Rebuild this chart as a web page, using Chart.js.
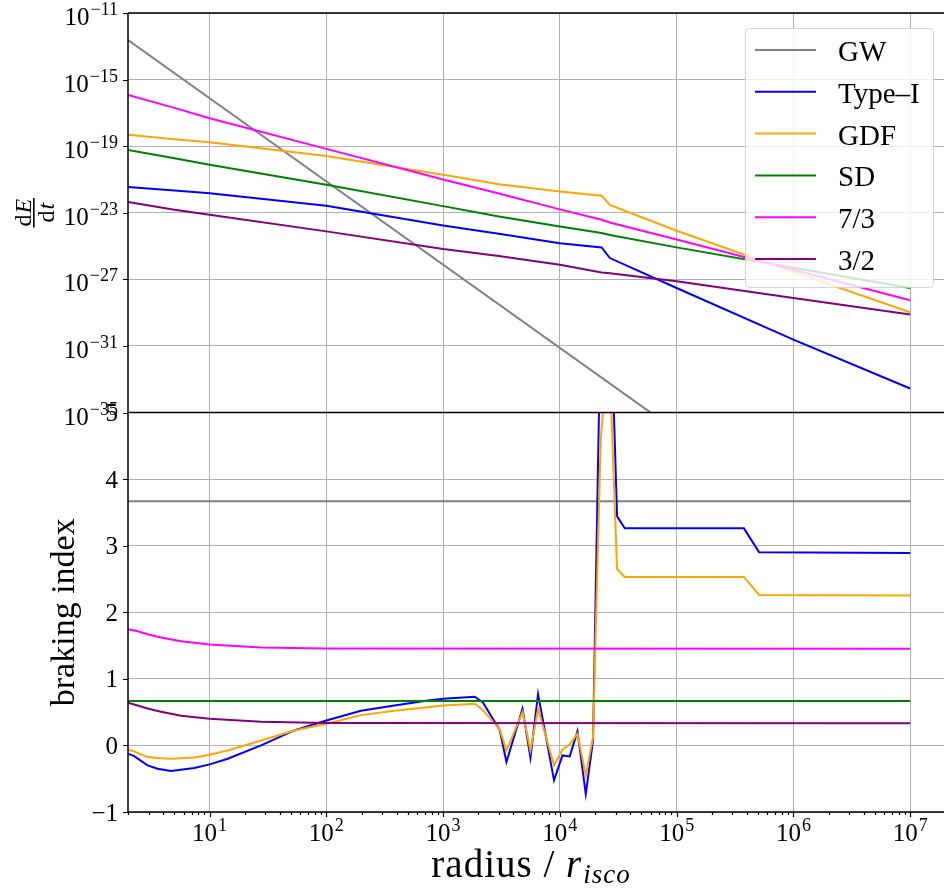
<!DOCTYPE html>
<html>
<head>
<meta charset="utf-8">
<script src="https://cdn.jsdelivr.net/npm/chart.js@4.4.1/dist/chart.umd.min.js"></script>
<style>
  html, body { margin: 0; padding: 0; background: #fff; }
</style>
</head>
<body>
<canvas id="myChart" width="944" height="890"></canvas>
<script>
// radius in units of r_isco, shared by the energy-loss curves
var radius = [2, 5, 10, 100, 1000, 3000, 1e4, 2.28e4, 2.68e4, 1e5, 1e6, 1e7];

// dE/dt for each channel
var gwRadius = [2, 1e5];
var gwEnergy = [2.4e-13, 7.6e-37];
var typeIEnergy = [3.5e-22, 2.2e-22, 1.5e-22, 2.6e-23, 1.74e-24, 5.5e-25, 1.45e-25, 8.3e-26, 1.9e-26, 3.0e-28, 2.4e-31, 2.75e-34];
var gdfEnergy = [4.8e-19, 2.6e-19, 1.74e-19, 2.6e-20, 1.9e-21, 5.2e-22, 1.9e-22, 1.05e-22, 3.0e-23, 8.3e-25, 2.8e-27, 1.05e-29];
var sdEnergy = [6.0e-20, 1.9e-20, 7.6e-21, 4.8e-22, 2.5e-23, 6.0e-24, 1.5e-24, 6.0e-25, 4.6e-25, 8.3e-26, 5.0e-27, 3.0e-28];
var sevenThirdsEnergy = [1.2e-16, 2.0e-17, 4.8e-18, 6.9e-20, 1.0e-21, 1.45e-22, 1.6e-23, 3.8e-24, 2.6e-24, 2.5e-25, 3.8e-27, 5.5e-29];
var threeHalvesEnergy = [4.4e-23, 1.5e-23, 7.6e-24, 7.6e-25, 6.6e-26, 2.5e-26, 7.6e-27, 2.6e-27, 2.3e-27, 7.6e-28, 7.6e-29, 7.6e-30];

// braking index
var brakeRadius = [2, 2.26, 2.94, 3.58, 4.66, 7.4, 10, 14.3, 27.6, 53, 100, 198, 383, 739, 1000, 1866, 2198, 3055, 3486,
                   4786, 5598, 6503, 8913, 10520, 12150, 14150, 16670, 19230, 22400, 26230, 30900, 35970, 3.77e5, 5.09e5, 1e7];
var typeIBrake = [-0.125, -0.16, -0.30, -0.35, -0.385, -0.34, -0.285, -0.2, 0.0, 0.225, 0.375, 0.52, 0.60, 0.675, 0.70, 0.73, 0.64, 0.23, -0.25,
                  0.55, -0.185, 0.77, -0.525, -0.15, -0.165, 0.215, -0.73, 0.075, 6.5, 7.5, 3.44, 3.26, 3.26, 2.9, 2.89];
var gdfBrake = [-0.065, -0.09, -0.175, -0.19, -0.20, -0.18, -0.14, -0.075, 0.075, 0.225, 0.325, 0.455, 0.52, 0.575, 0.60, 0.625, 0.53, 0.24, -0.075,
                0.50, -0.075, 0.55, -0.30, -0.065, 0.015, 0.175, -0.45, 0.125, 4.6, 6.1, 2.65, 2.53, 2.53, 2.26, 2.25];
var powRadius = [2, 2.42, 2.94, 3.83, 5.7, 10, 27.6, 100, 1e7];
var sevenThirdsBrake = [1.745, 1.715, 1.67, 1.62, 1.565, 1.515, 1.47, 1.455, 1.45];
var threeHalvesBrake = [0.64, 0.60, 0.555, 0.505, 0.445, 0.40, 0.355, 0.335, 0.333];
var flatRadius = [2, 1e7];
var gwBrake = [3.667, 3.667];
var sdBrake = [0.667, 0.667];

// axes
var xTicks = [1e1, 1e2, 1e3, 1e4, 1e5, 1e6, 1e7];
var energyTicks = [1e-35, 1e-31, 1e-27, 1e-23, 1e-19, 1e-15, 1e-11];
var brakeTicks = [-1, 0, 1, 2, 3, 4, 5];

var names = ['GW', 'Type\u2013I', 'GDF', 'SD', '7/3', '3/2'];
var colors = ['#808080', '#0000ff', '#ffa500', '#008000', '#ff00ff', '#800080'];

var SERIF = '"Liberation Serif", "DejaVu Serif", serif';

function pts(xs, ys) {
    return xs.map(function (x, i) { return { x: x, y: ys[i] }; });
}

var series = [
    [gwRadius, gwEnergy, 0, 'y'],
    [radius, typeIEnergy, 1, 'y'],
    [radius, gdfEnergy, 2, 'y'],
    [radius, sdEnergy, 3, 'y'],
    [radius, sevenThirdsEnergy, 4, 'y'],
    [radius, threeHalvesEnergy, 5, 'y'],
    [flatRadius, gwBrake, 0, 'y2'],
    [brakeRadius, typeIBrake, 1, 'y2'],
    [brakeRadius, gdfBrake, 2, 'y2'],
    [flatRadius, sdBrake, 3, 'y2'],
    [powRadius, sevenThirdsBrake, 4, 'y2'],
    [powRadius, threeHalvesBrake, 5, 'y2']
];

var datasets = series.map(function (s, i) {
    return {
        label: names[s[2]],
        data: pts(s[0], s[1]),
        borderColor: colors[s[2]],
        backgroundColor: colors[s[2]],
        borderWidth: 2,
        pointRadius: 0,
        tension: 0,
        fill: false,
        yAxisID: s[3],
        order: series.length - i   // later series drawn on top
    };
});

// keep each panel's lines inside its own half of the plot
var panelClip = {
    id: 'panelClip',
    beforeDatasetDraw: function (chart, args) {
        var ys = chart.scales[args.meta.yAxisID];
        var ctx = chart.ctx;
        ctx.save();
        ctx.beginPath();
        ctx.rect(chart.chartArea.left, ys.top, chart.chartArea.width, ys.bottom - ys.top);
        ctx.clip();
    },
    afterDatasetDraw: function (chart) {
        chart.ctx.restore();
    }
};

function drawPow(ctx, exp, x, y, align) {
    var base = '10';
    var sup = exp < 0 ? '\u2212' + (-exp) : String(exp);
    ctx.font = '25px ' + SERIF;
    var wb = ctx.measureText(base).width;
    ctx.font = '18px ' + SERIF;
    var ws = ctx.measureText(sup).width;
    var left = align === 'right' ? x - wb - ws - 1 : x - (wb + ws + 1) / 2;
    ctx.textAlign = 'left';
    ctx.font = '25px ' + SERIF;
    ctx.fillText(base, left, y);
    ctx.font = '18px ' + SERIF;
    ctx.fillText(sup, left + wb + 1, y - 10);
}

// spines, ticks, tick labels, axis titles and legend
var decor = {
    id: 'decor',
    afterDraw: function (chart) {
        var ctx = chart.ctx;
        var area = chart.chartArea;
        var sx = chart.scales.x, sy = chart.scales.y, sy2 = chart.scales.y2;
        ctx.save();
        ctx.fillStyle = '#000';
        ctx.strokeStyle = '#000';
        ctx.textBaseline = 'alphabetic';

        // tick marks
        ctx.lineWidth = 1.2;
        ctx.beginPath();
        energyTicks.forEach(function (v) {
            var y = Math.round(sy.getPixelForValue(v)) + 0.5;
            ctx.moveTo(area.left - 5, y); ctx.lineTo(area.left, y);
        });
        brakeTicks.forEach(function (v) {
            var y = Math.round(sy2.getPixelForValue(v)) + 0.5;
            ctx.moveTo(area.left - 5, y); ctx.lineTo(area.left, y);
        });
        for (var k = 0; k <= 7; k++) {
            for (var m = 1; m <= 9; m++) {
                var v = m * Math.pow(10, k);
                if (v < sx.min || v > sx.max) continue;
                var x = Math.round(sx.getPixelForValue(v)) + 0.5;
                ctx.moveTo(x, area.bottom);
                ctx.lineTo(x, area.bottom + (m === 1 ? 5 : 3));
            }
        }
        ctx.stroke();

        // spines
        ctx.lineWidth = 1.5;
        ctx.beginPath();
        ctx.moveTo(area.left, area.top); ctx.lineTo(area.right, area.top);
        ctx.moveTo(area.left, sy.bottom); ctx.lineTo(area.right, sy.bottom);
        ctx.moveTo(area.left, area.bottom); ctx.lineTo(area.right, area.bottom);
        ctx.moveTo(area.left, area.top); ctx.lineTo(area.left, area.bottom);
        ctx.stroke();

        // tick labels
        energyTicks.forEach(function (v) {
            var y = sy.getPixelForValue(v);
            drawPow(ctx, Math.round(Math.log10(v)), area.left - 10, y + 12, 'right');
        });
        ctx.font = '25px ' + SERIF;
        ctx.textAlign = 'right';
        brakeTicks.forEach(function (v) {
            var y = sy2.getPixelForValue(v);
            var txt = v < 0 ? '\u2212' + (-v) : String(v);
            ctx.fillText(txt, area.left - 10, y + 8.5);
        });
        xTicks.forEach(function (v) {
            drawPow(ctx, Math.round(Math.log10(v)), sx.getPixelForValue(v), area.bottom + 29, 'center');
        });

        // y title of the upper panel: dE/dt
        ctx.save();
        ctx.translate(34, (sy.top + sy.bottom) / 2);
        ctx.rotate(-Math.PI / 2);
        ctx.textAlign = 'left';
        ctx.font = '24px ' + SERIF;
        var wd = ctx.measureText('d').width;
        ctx.font = 'italic 24px ' + SERIF;
        var wE = ctx.measureText('E').width;
        var wt = ctx.measureText('t').width;
        var wn = wd + wE + 1;
        ctx.font = '24px ' + SERIF;
        ctx.fillText('d', -wn / 2, -3);
        ctx.font = 'italic 24px ' + SERIF;
        ctx.fillText('E', -wn / 2 + wd + 1, -3);
        ctx.fillRect(-wn / 2 - 1, -1, wn + 2, 1.6);
        var wdn = wd + wt + 1;
        ctx.font = '24px ' + SERIF;
        ctx.fillText('d', -wdn / 2, 20);
        ctx.font = 'italic 24px ' + SERIF;
        ctx.fillText('t', -wdn / 2 + wd + 1, 20);
        ctx.restore();

        // y title of the lower panel
        ctx.save();
        ctx.translate(74, (sy2.top + sy2.bottom) / 2);
        ctx.rotate(-Math.PI / 2);
        ctx.textAlign = 'center';
        ctx.font = '34px ' + SERIF;
        ctx.fillText('braking index', 0, 0);
        ctx.restore();

        // x title: radius / r_isco
        ctx.textAlign = 'left';
        ctx.letterSpacing = '1px';
        ctx.font = '39px ' + SERIF;
        var w1 = ctx.measureText('radius / ').width;
        ctx.font = 'italic 39px ' + SERIF;
        var w2 = ctx.measureText('r').width;
        ctx.font = 'italic 27px ' + SERIF;
        var w3 = ctx.measureText('isco').width;
        var xl = 531 - (w1 + w2 + w3 + 1) / 2;
        var yl = 877;
        ctx.font = '39px ' + SERIF;
        ctx.fillText('radius / ', xl, yl);
        ctx.font = 'italic 39px ' + SERIF;
        ctx.fillText('r', xl + w1, yl);
        ctx.font = 'italic 27px ' + SERIF;
        ctx.fillText('isco', xl + w1 + w2 + 1, yl + 6);
        ctx.letterSpacing = '0px';

        // legend
        var lx = 745, ly = 28, lw = 188, lh = 259;
        ctx.beginPath();
        ctx.roundRect(lx + 0.5, ly + 0.5, lw, lh, 4);
        ctx.fillStyle = 'rgba(255,255,255,0.8)';
        ctx.fill();
        ctx.strokeStyle = 'rgba(204,204,204,0.8)';
        ctx.lineWidth = 1;
        ctx.stroke();
        ctx.font = '29px ' + SERIF;
        ctx.textAlign = 'left';
        names.forEach(function (name, i) {
            var y = 50 + i * 41.8;
            ctx.strokeStyle = colors[i];
            ctx.lineWidth = 2;
            ctx.beginPath();
            ctx.moveTo(755, y); ctx.lineTo(816, y);
            ctx.stroke();
            ctx.fillStyle = '#000';
            ctx.fillText(name, 838, y + 11);
        });
        ctx.restore();
    }
};

var gridStyle = { color: '#b0b0b0', lineWidth: 1, drawTicks: false };

var ctx = document.getElementById('myChart').getContext('2d');
var chart = new Chart(ctx, {
    type: 'line',
    data: { datasets: datasets },
    options: {
        responsive: false,
        animation: false,
        devicePixelRatio: 1,
        layout: { padding: { top: 13, right: 0, left: 0, bottom: 0 } },
        plugins: {
            legend: { display: false },
            tooltip: { enabled: false }
        },
        scales: {
            x: {
                type: 'logarithmic',
                position: 'bottom',
                min: 2,
                max: 1.95e7,
                grid: gridStyle,
                border: { display: false },
                ticks: { display: false },
                afterBuildTicks: function (scale) {
                    scale.ticks = xTicks.map(function (v) { return { value: v }; });
                },
                afterFit: function (scale) { scale.height = 78; }
            },
            y: {
                type: 'logarithmic',
                position: 'left',
                stack: 'panels',
                stackWeight: 1,
                weight: 1,
                min: 1e-35,
                max: 1e-11,
                grid: gridStyle,
                border: { display: false },
                ticks: { display: false },
                afterBuildTicks: function (scale) {
                    scale.ticks = energyTicks.map(function (v) { return { value: v }; });
                },
                afterFit: function (scale) { scale.width = 128; }
            },
            y2: {
                type: 'linear',
                position: 'left',
                stack: 'panels',
                stackWeight: 1,
                weight: 0,
                min: -1,
                max: 5,
                grid: gridStyle,
                border: { display: false },
                ticks: { display: false },
                afterBuildTicks: function (scale) {
                    scale.ticks = brakeTicks.map(function (v) { return { value: v }; });
                },
                afterFit: function (scale) { scale.width = 128; }
            }
        }
    },
    plugins: [panelClip, decor]
});
</script>
</body>
</html>
